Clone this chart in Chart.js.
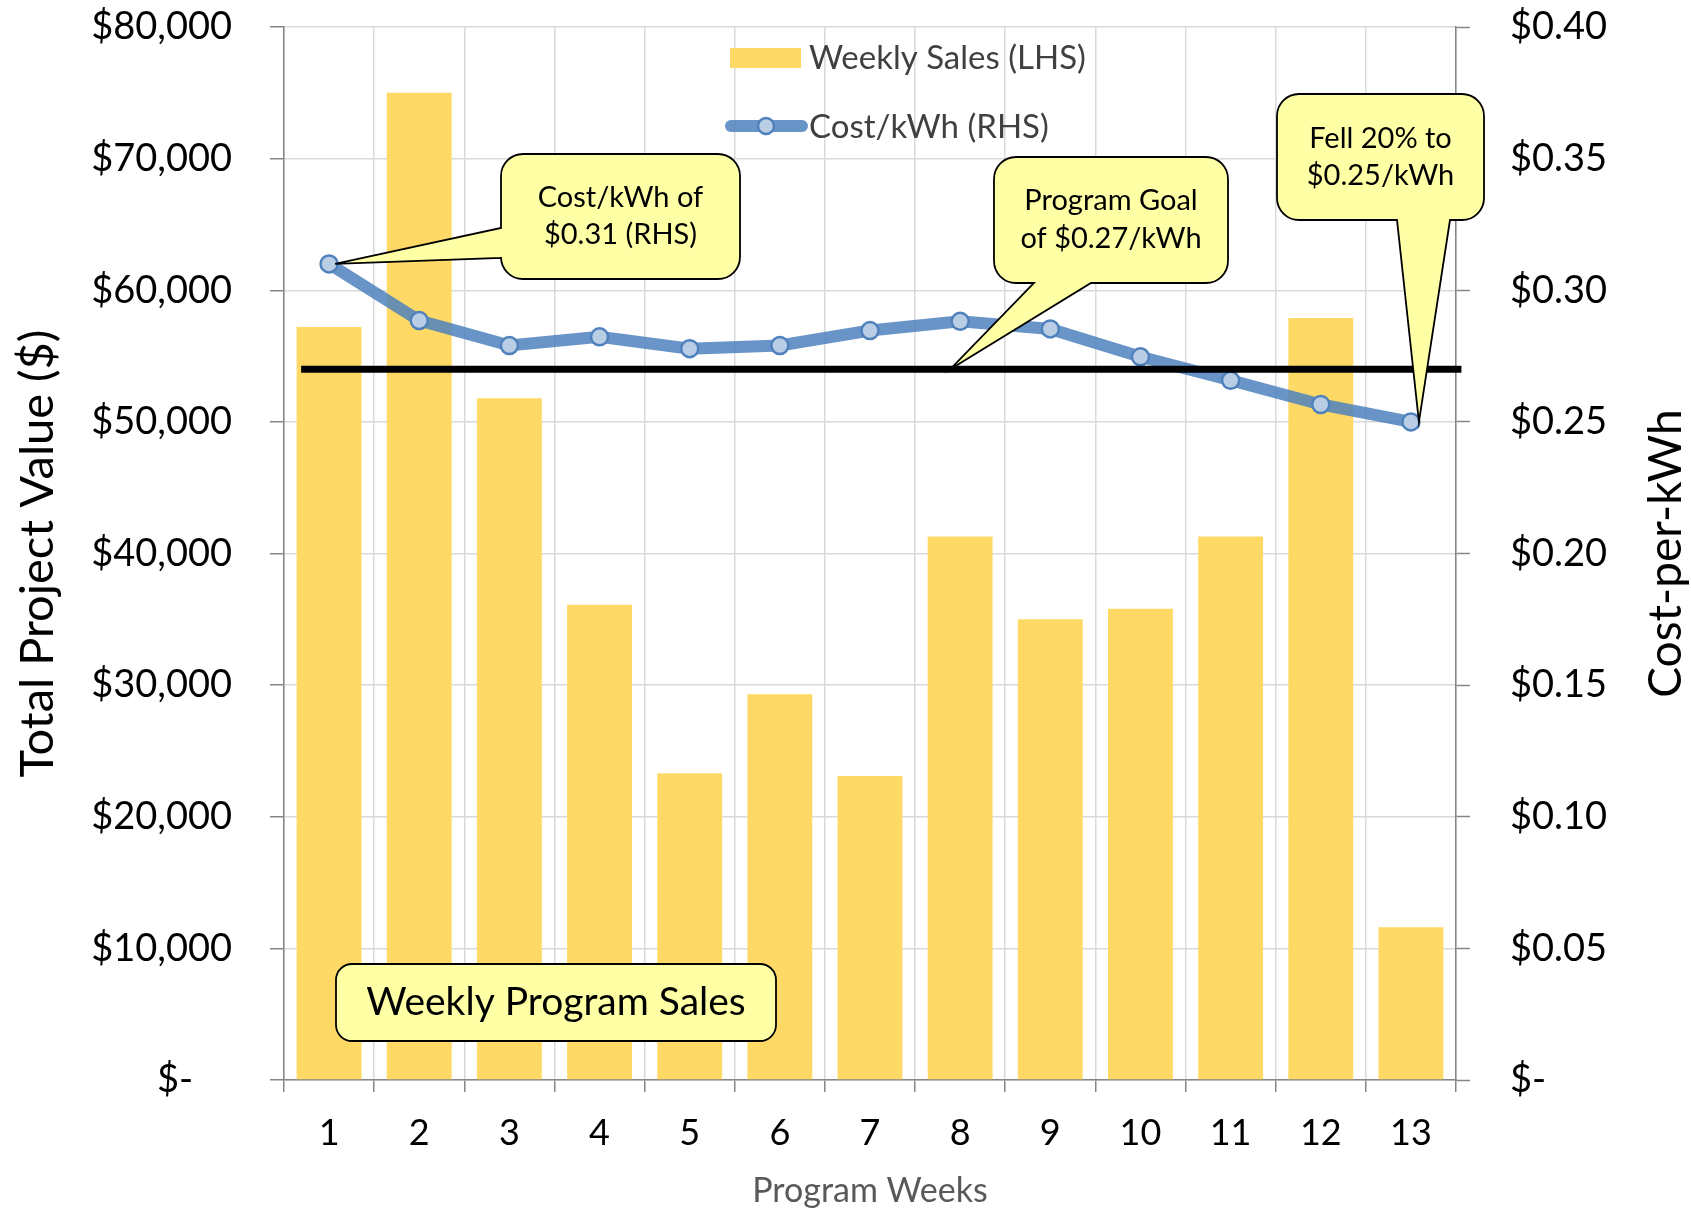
<!DOCTYPE html>
<html>
<head>
<meta charset="utf-8">
<script src="https://cdn.jsdelivr.net/npm/chart.js@4/dist/chart.umd.min.js"></script>
<style>
  html, body { margin: 0; padding: 0; background: #ffffff; }
  #wrap { width: 1691px; height: 1211px; }
</style>
</head>
<body>
<div id="wrap"><canvas id="chart" width="1691" height="1211"></canvas></div>
<script>
// Program weeks on the category axis
const weeks = ['1', '2', '3', '4', '5', '6', '7', '8', '9', '10', '11', '12', '13'];

// Weekly sales, total project value in dollars (left axis)
const weeklySales = [57200, 75000, 51800, 36100, 23300, 29300, 23100, 41300, 35000, 35800, 41300, 57900, 11600];

// Cost per kWh in dollars (right axis)
const costPerKwh = [0.31, 0.2885, 0.279, 0.2823, 0.2778, 0.279, 0.2847, 0.2882, 0.2853, 0.2747, 0.2658, 0.2566, 0.25];

// Program cost target, dollars per kWh
const programGoal = 0.27;

// Axis ranges and tick steps
const salesAxis = { min: 0, max: 80000, step: 10000 };
const costAxis = { min: 0, max: 0.4, step: 0.05 };

// Series names
const salesLabel = 'Weekly Sales (LHS)';
const costLabel = 'Cost/kWh (RHS)';

const FONT = 'Lato, "Open Sans", "Noto Sans", sans-serif';
Chart.defaults.font.family = FONT;

const BAR_COLOR = '#ffd966';
const LINE_COLOR = 'rgba(79,129,189,0.85)';
const MARKER_FILL = '#b9cde5';
const MARKER_EDGE = '#4f81bd';
const CALLOUT_FILL = '#ffffa6';

function roundedCallout(ctx, x, y, w, h, r, wedge) {
  ctx.beginPath();
  ctx.moveTo(x + r, y);
  ctx.lineTo(x + w - r, y);
  ctx.arcTo(x + w, y, x + w, y + r, r);
  ctx.lineTo(x + w, y + h - r);
  ctx.arcTo(x + w, y + h, x + w - r, y + h, r);
  if (wedge && wedge.side === 'bottom') {
    ctx.lineTo(wedge.b2, y + h);
    ctx.lineTo(wedge.tx, wedge.ty);
    ctx.lineTo(wedge.b1, y + h);
  }
  ctx.lineTo(x + r, y + h);
  ctx.arcTo(x, y + h, x, y + h - r, r);
  if (wedge && wedge.side === 'left') {
    ctx.lineTo(x, wedge.b2);
    ctx.lineTo(wedge.tx, wedge.ty);
    ctx.lineTo(x, wedge.b1);
  }
  ctx.lineTo(x, y + r);
  ctx.arcTo(x, y, x + r, y, r);
  ctx.closePath();
}

function drawCallout(ctx, box, wedge, lines, fontSize, lineGap) {
  ctx.save();
  roundedCallout(ctx, box.x, box.y, box.w, box.h, box.r, wedge);
  ctx.fillStyle = CALLOUT_FILL;
  ctx.fill();
  ctx.lineWidth = 1.8;
  ctx.strokeStyle = '#000000';
  ctx.lineJoin = 'miter';
  ctx.stroke();
  ctx.fillStyle = '#000000';
  ctx.font = fontSize + 'px ' + FONT;
  ctx.textAlign = 'center';
  ctx.textBaseline = 'middle';
  const cx = box.x + box.w / 2;
  const cy = box.y + box.h / 2;
  const top = cy - (lines.length - 1) * lineGap / 2;
  lines.forEach((t, i) => ctx.fillText(t, cx, top + i * lineGap));
  ctx.restore();
}

// Keep the plot box flush with the layout padding
function noVerticalPadding(scale) {
  scale.paddingTop = 0;
  scale.paddingBottom = 0;
}

const overlays = {
  id: 'overlays',
  afterDatasetsDraw(chart) {
    const { ctx, scales } = chart;
    const xs = scales.x, y2 = scales.y2;

    // Program goal reference line
    const gy = y2.getPixelForValue(programGoal);
    ctx.save();
    ctx.strokeStyle = '#000000';
    ctx.lineWidth = 7;
    ctx.beginPath();
    ctx.moveTo(xs.getPixelForValue(-0.31), gy);
    ctx.lineTo(xs.getPixelForValue(12.56), gy);
    ctx.stroke();
    ctx.restore();

    // Legend
    ctx.save();
    ctx.fillStyle = BAR_COLOR;
    ctx.fillRect(730, 48, 71, 20);
    ctx.strokeStyle = LINE_COLOR;
    ctx.lineWidth = 12;
    ctx.lineCap = 'round';
    ctx.beginPath();
    ctx.moveTo(731, 126);
    ctx.lineTo(802, 126);
    ctx.stroke();
    ctx.beginPath();
    ctx.arc(766, 126, 8, 0, Math.PI * 2);
    ctx.fillStyle = MARKER_FILL;
    ctx.fill();
    ctx.lineWidth = 2.5;
    ctx.strokeStyle = MARKER_EDGE;
    ctx.stroke();
    ctx.fillStyle = '#404040';
    ctx.font = '33px ' + FONT;
    ctx.textAlign = 'left';
    ctx.textBaseline = 'middle';
    ctx.fillText(salesLabel, 809, 58);
    ctx.fillText(costLabel, 809, 127);
    ctx.restore();

    // Right axis title, reading bottom to top
    ctx.save();
    ctx.translate(1666, (chart.chartArea.top + chart.chartArea.bottom) / 2);
    ctx.rotate(-Math.PI / 2);
    ctx.fillStyle = '#000000';
    ctx.font = '46px ' + FONT;
    ctx.textAlign = 'center';
    ctx.textBaseline = 'middle';
    ctx.fillText('Cost-per-kWh', 0, 0);
    ctx.restore();

    // Callout: first week cost
    const p0x = xs.getPixelForValue(0), p0y = y2.getPixelForValue(costPerKwh[0]);
    drawCallout(ctx, { x: 501, y: 154, w: 239, h: 125, r: 22 },
      { side: 'left', b1: 228, b2: 258, tx: p0x + 6, ty: p0y },
      ['Cost/kWh of', '$' + costPerKwh[0].toFixed(2) + ' (RHS)'], 29, 37);

    // Callout: program goal
    drawCallout(ctx, { x: 994, y: 157, w: 234, h: 126, r: 22 },
      { side: 'bottom', b1: 1034, b2: 1091, tx: xs.getPixelForValue(6.89), ty: gy },
      ['Program Goal', 'of $' + programGoal.toFixed(2) + '/kWh'], 29, 38);

    // Callout: last week cost
    const last = costPerKwh.length - 1;
    drawCallout(ctx, { x: 1277, y: 94, w: 207, h: 126, r: 22 },
      { side: 'bottom', b1: 1397, b2: 1450, tx: xs.getPixelForValue(last) + 8, ty: y2.getPixelForValue(costPerKwh[last]) },
      ['Fell 20% to', '$' + costPerKwh[last].toFixed(2) + '/kWh'], 29, 37);

    // Chart caption box
    drawCallout(ctx, { x: 336, y: 964, w: 440, h: 77, r: 16 }, null,
      ['Weekly Program Sales'], 39, 0);
  }
};

new Chart(document.getElementById('chart'), {
  type: 'bar',
  data: {
    labels: weeks,
    datasets: [
      {
        type: 'line',
        label: costLabel,
        data: costPerKwh,
        yAxisID: 'y2',
        order: 0,
        borderColor: LINE_COLOR,
        borderWidth: 12,
        tension: 0,
        pointRadius: 8.5,
        pointBackgroundColor: MARKER_FILL,
        pointBorderColor: MARKER_EDGE,
        pointBorderWidth: 2.5
      },
      {
        type: 'bar',
        label: salesLabel,
        data: weeklySales,
        yAxisID: 'y',
        order: 1,
        backgroundColor: BAR_COLOR,
        barPercentage: 0.72,
        categoryPercentage: 1
      }
    ]
  },
  options: {
    responsive: false,
    animation: false,
    devicePixelRatio: 1,
    layout: { padding: { top: 27, left: 0, right: 0, bottom: 0 } },
    plugins: { legend: { display: false }, tooltip: { enabled: false } },
    scales: {
      x: {
        offset: true,
        grid: { color: '#d9d9d9', lineWidth: 1.5, tickLength: 12, offset: true, tickColor: '#868686', tickWidth: 1.5 },
        border: { color: '#868686', width: 1.5 },
        ticks: { color: '#000000', font: { size: 36 }, padding: 20 },
        title: { display: true, text: 'Program Weeks', color: '#595959', font: { size: 34 }, padding: { top: 0, bottom: 0 } },
        afterFit(scale) { scale.height = 131; scale.paddingLeft = 0; scale.paddingRight = 0; }
      },
      y: {
        position: 'left',
        min: salesAxis.min,
        max: salesAxis.max,
        grid: { color: '#d9d9d9', lineWidth: 1.5, tickLength: 14, tickColor: '#868686', tickWidth: 1.5 },
        border: { color: '#868686', width: 1.5 },
        ticks: {
          stepSize: salesAxis.step,
          color: '#000000',
          font: { size: 38 },
          padding: 38,
          callback: (v) => v === 0 ? '$-    ' : '$' + v.toLocaleString('en-US')
        },
        title: { display: true, text: 'Total Project Value ($)', color: '#000000', font: { size: 47 }, padding: { top: 10 } },
        afterFit(scale) { scale.width = 284; noVerticalPadding(scale); }
      },
      y2: {
        position: 'right',
        min: costAxis.min,
        max: costAxis.max,
        grid: { drawOnChartArea: false, tickLength: 14, tickColor: '#868686', tickWidth: 1.5 },
        border: { color: '#868686', width: 1.5 },
        ticks: {
          stepSize: costAxis.step,
          color: '#000000',
          font: { size: 38 },
          padding: 40,
          callback: (v) => v === 0 ? '$-' : '$' + v.toFixed(2)
        },
        afterFit(scale) { scale.width = 235; noVerticalPadding(scale); }
      }
    }
  },
  plugins: [overlays]
});
</script>
</body>
</html>
